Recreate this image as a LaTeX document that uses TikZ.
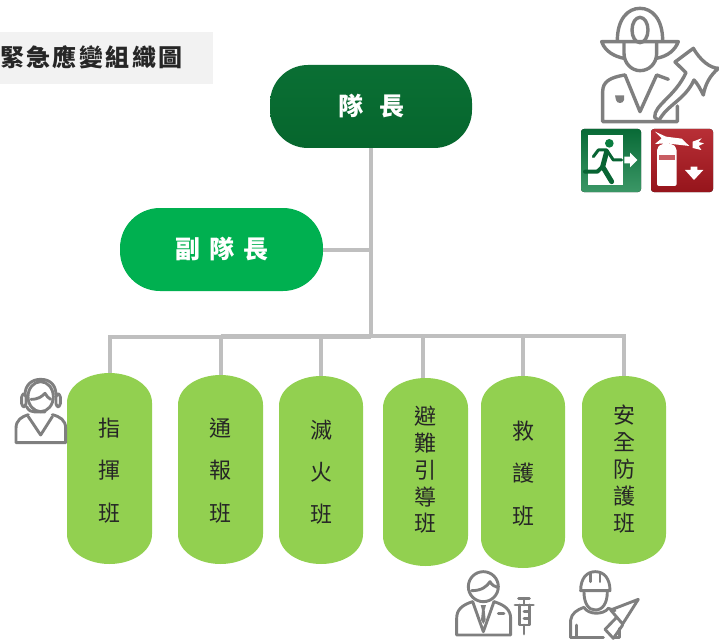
\documentclass[tikz,border=0pt]{standalone}
\usepackage{fontspec}
\newfontfamily\cjk{Noto Sans CJK TC}
\definecolor{linegray}{HTML}{BFBFBF}
\definecolor{icongray}{HTML}{7F7F7F}
\definecolor{pillgreen}{HTML}{92D050}
\definecolor{vicegreen}{HTML}{00B050}
\definecolor{leadtop}{HTML}{0A6F34}
\definecolor{leadbot}{HTML}{06662D}
\definecolor{titlebg}{HTML}{F2F2F2}
\definecolor{pilltext}{HTML}{262626}
\definecolor{exitgreen}{HTML}{0A7D40}
\definecolor{firered}{HTML}{B01820}
\tikzset{
  conn/.style={draw=linegray,line width=4pt},
  pilllabel/.style={inner sep=0pt,text=pilltext,align=center,minimum width=84pt},
  icon/.style={draw=icongray,line width=3.4pt,line join=round,line cap=round},
  iconb/.style={draw=icongray,line width=2.9pt,line join=round,line cap=round},
  zoomA/.style={shift={(560pt,0pt)},x=0.3333pt,y=-0.3333pt},
  zoomB/.style={shift={(440pt,-560pt)},x=0.3333pt,y=-0.3333pt},
  zoomC/.style={shift={(0pt,-320pt)},x=0.3333pt,y=-0.3333pt},
}
% pill: name, x0, x1, y0, y1, text-centre y, text size, line spacing, text
\newcommand{\pillbox}[9]{%
  \fill[pillgreen] (#2,{#4+30}) .. controls (#2,{#4+12}) and ({(#2+#3)/2-22},#4) .. ({(#2+#3)/2},#4)
    .. controls ({(#2+#3)/2+22},#4) and (#3,{#4+12}) .. (#3,{#4+30})
    -- (#3,{#5-30}) .. controls (#3,{#5-12}) and ({(#2+#3)/2+22},#5) .. ({(#2+#3)/2},#5)
    .. controls ({(#2+#3)/2-22},#5) and (#2,{#5-12}) .. (#2,{#5-30}) -- cycle;
  \coordinate (#1top) at ({(#2+#3)/2},#4);
  \node[pilllabel,font=\cjk\fontsize{#7}{#8}\selectfont] (#1) at ({(#2+#3)/2},#6) {#9};
}
\begin{document}
\begin{tikzpicture}[x=1pt,y=-1pt]
\useasboundingbox (0,0) rectangle (719,639);

% title
\node[fill=titlebg,minimum width=213pt,minimum height=52pt,inner sep=0pt,anchor=north west] (titlebox) at (0,32) {};
\node[anchor=west,inner sep=0pt,font=\cjk\bfseries\fontsize{24}{28}\selectfont,text=black!85] (titletext) at (0,57) {\addfontfeature{LetterSpace=10}緊急應變組織圖};

% leaders
\node[shading=axis,top color=leadtop,bottom color=leadbot,rounded corners=38pt,minimum width=202pt,minimum height=83pt,inner sep=0pt,
  text=white,font=\cjk\bfseries\fontsize{25}{30}\selectfont] (lead) at (371,106.5) {隊\hspace{16pt}長};
\node[fill=vicegreen,rounded corners=40pt,minimum width=203pt,minimum height=83pt,inner sep=0pt,
  text=white,font=\cjk\bfseries\fontsize{25}{30}\selectfont] (vice) at (221.5,249.5) {副\hspace{9pt}隊\hspace{9pt}長};

% pills
\pillbox{pa}{67}{152}{373}{564}{470.5}{22}{42.5}{指\\揮\\班}
\pillbox{pb}{178}{263}{375}{564}{470.5}{22}{42.5}{通\\報\\班}
\pillbox{pc}{279}{363}{376}{564}{472}{22}{42}{滅\\火\\班}
\pillbox{pd}{383}{468}{378}{566}{470}{22}{26.8}{避\\難\\引\\導\\班}
\pillbox{pe}{481}{565}{376}{568}{473.5}{22}{42.5}{救\\護\\班}
\pillbox{pf}{582}{666}{376}{564}{469}{22}{26.8}{安\\全\\防\\護\\班}

% connectors
\coordinate (hub) at (370.5,335.5);
\coordinate (ja) at (109.5,337);
\coordinate (jb) at (220.5,335.5);
\coordinate (jf) at (624,335.5);
\coordinate (pdjoin) at (423,378);
\draw[conn] (lead.south -| hub) -- (hub);
\draw[conn] (vice.east) -- (vice.east -| hub);
\draw[conn] (patop) -- (ja) -- (ja -| hub);
\draw[conn] (jb) -- (jf) -- (pftop);
\draw[conn] (jb) -- (pbtop);
\draw[conn] (pctop |- jb) -- (pctop);
\draw[conn] (pdjoin |- jb) -- (pdjoin);
\draw[conn] (petop |- jb) -- (petop);

% firefighter icon
\begin{scope}[zoomA]
  \draw[icon] (172,122) .. controls (172,55) and (205,25) .. (240,25) .. controls (275,25) and (308,55) .. (308,122);
  \draw[icon] (240,90) ellipse [x radius=24,y radius=38];
  \draw[icon] (192,175) .. controls (165,170) and (135,155) .. (125,125) -- (355,125) .. controls (345,150) and (325,168) .. (290,175);
  \draw[icon] (192,130) -- (192,160) .. controls (192,190) and (215,212) .. (240,212) .. controls (268,212) and (290,190) .. (290,160) -- (290,130);
  \draw[icon] (195,225) .. controls (150,232) and (128,245) .. (128,275) -- (128,365) -- (352,365) -- (352,318);
  \draw[icon] (195,225) -- (240,335) -- (290,225) -- (325,238);
  \fill[icongray] (165,286) -- (192,286) -- (192,300) .. controls (190,312) and (170,312) .. (168,300) -- cycle;
  \draw[icon] (284,352) .. controls (282,315) and (345,290) .. (378,218) -- (345,186) -- (400,145)
     .. controls (420,180) and (450,205) .. (476,205) .. controls (450,225) and (435,255) .. (430,285)
     .. controls (420,265) and (412,250) .. (402,240) .. controls (375,300) and (320,315) .. (297,362) -- cycle;
\end{scope}

% exit sign
\fill[rounded corners=3pt,shading=axis,top color=exitgreen!85!black,bottom color=exitgreen!80!white] (581,129) rectangle (641,192);
\begin{scope}[zoomA]
  \fill[white] (85,405) rectangle (188,555);
  \fill[exitgreen] (148,430) circle [radius=13];
  \draw[exitgreen!80!black,line width=5pt,line cap=round,line join=round] (140,455) -- (128,500) -- (155,545);
  \draw[exitgreen!80!black,line width=4pt,line cap=round,line join=round] (128,500) -- (112,515) -- (75,515);
  \draw[exitgreen!80!black,line width=3pt,line cap=round,line join=round] (100,470) -- (115,450) -- (140,450) -- (160,480) -- (185,480);
  \fill[white] (193,470) -- (210,470) -- (210,458) -- (232,480) -- (210,502) -- (210,490) -- (193,490) -- cycle;
\end{scope}

% extinguisher sign
\fill[rounded corners=3pt,shading=axis,top color=firered!90!white,bottom color=firered!85!black] (651,129) rectangle (713,192);
\begin{scope}[zoomA]
  \fill[white,rounded corners=2pt] (291,445) -- (303,432) -- (338,432) -- (350,445) -- (350,558) -- (291,558) -- cycle;
  \fill[firered!70!white] (296,465) rectangle (345,480);
  \fill[white] (310,418) rectangle (328,435);
  \fill[white] (285,395) -- (318,410) -- (365,416) -- (388,438) -- (318,430) -- (285,432) -- (305,415) -- cycle;
  \fill[white] (398,425) -- (425,415) -- (416,426) -- (432,430) -- (416,438) -- (424,450) -- (398,444) -- cycle;
  \fill[white] (375,510) -- (392,510) -- (392,500) -- (412,500) -- (412,510) -- (430,510) -- (402,540) -- cycle;
\end{scope}

% headset operator icon
\begin{scope}[zoomC]
  \draw[iconb] (75,225) .. controls (75,195) and (95,178) .. (122,178) .. controls (150,178) and (168,195) .. (168,225);
  \draw[iconb,rounded corners=3pt] (65,222) rectangle (78,260);
  \draw[iconb,rounded corners=3pt] (168,222) rectangle (181,260);
  \draw[iconb] (122,230) ellipse [x radius=38,y radius=45];
  \draw[iconb] (93,238) .. controls (115,238) and (125,230) .. (135,220) .. controls (140,228) and (145,235) .. (152,238);
  \draw[iconb] (80,260) .. controls (85,272) and (95,276) .. (105,276) -- (135,276);
  \draw[iconb] (85,284) .. controls (65,290) and (48,300) .. (48,325) -- (48,368) -- (197,368) -- (197,325) .. controls (197,300) and (180,290) .. (157,284);
  \draw[iconb] (85,290) -- (122,345) -- (157,290);
\end{scope}

% doctor icon
\begin{scope}[zoomB]
  \draw[iconb] (130,80) circle [radius=45];
  \draw[iconb] (95,92) .. controls (125,92) and (140,80) .. (150,65) .. controls (155,75) and (165,80) .. (172,82);
  \draw[iconb] (98,125) .. controls (65,135) and (50,150) .. (50,175) -- (50,225) -- (212,225) -- (212,175) .. controls (212,150) and (195,135) .. (162,125);
  \draw[iconb] (98,125) -- (130,215) -- (162,125);
  \fill[icongray] (122,135) -- (138,135) -- (134,150) -- (137,180) -- (130,192) -- (123,180) -- (126,150) -- cycle;
  \draw[iconb] (175,160) -- (192,160);
  \draw[iconb] (225,135) -- (280,135);
  \draw[iconb] (252,115) -- (252,135);
  \draw[iconb] (236,115) -- (268,115);
  \draw[iconb] (238,135) -- (238,195) -- (268,195) -- (268,135);
  \draw[iconb] (252,195) -- (252,222);
  \draw[iconb] (252,155) -- (268,155) (252,175) -- (268,175);
\end{scope}

% worker icon
\begin{scope}[zoomB]
  \draw[iconb] (422,92) .. controls (422,55) and (440,35) .. (466,35) .. controls (492,35) and (510,55) .. (510,92) -- cycle;
  \draw[iconb] (452,40) -- (452,65) (480,40) -- (480,65);
  \draw[iconb] (432,95) .. controls (432,130) and (445,150) .. (466,150) .. controls (488,150) and (502,130) .. (502,95);
  \draw[iconb] (392,232) -- (392,180) .. controls (395,160) and (410,150) .. (432,142) .. controls (445,165) and (490,165) .. (505,145) -- (525,152);
  \draw[iconb] (410,232) -- (410,195);
  \draw[iconb] (392,232) -- (490,232) (525,232) -- (538,232) -- (538,205);
  \draw[iconb] (595,118) -- (512,150) -- (548,192) -- cycle;
  \draw[iconb] (530,172) -- (505,198) -- (495,208) -- (520,235) -- (548,195);
\end{scope}
\end{tikzpicture}
\end{document}
